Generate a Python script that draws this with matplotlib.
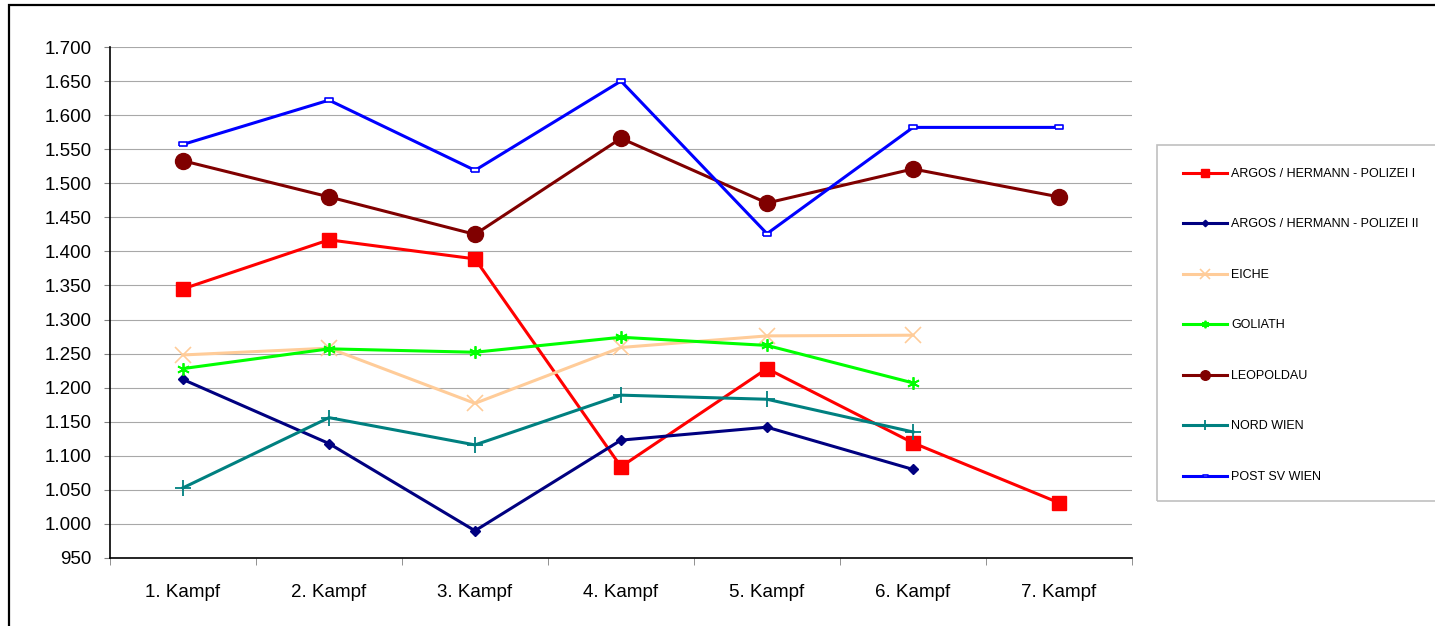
import matplotlib
matplotlib.use('Agg')
import matplotlib.pyplot as plt
from matplotlib.patches import Rectangle
from matplotlib.ticker import FuncFormatter

plt.rcParams['font.family'] = ['Liberation Sans', 'DejaVu Sans']

categories = ['1. Kampf', '2. Kampf', '3. Kampf', '4. Kampf', '5. Kampf', '6. Kampf', '7. Kampf']

argos_1 = [1345, 1417, 1389, 1084, 1228, 1119, 1031]
argos_2 = [1212, 1118, 990, 1123, 1142, 1080]
eiche = [1248, 1258, 1177, 1259, 1276, 1277]
goliath = [1228, 1257, 1252, 1274, 1262, 1207]
leopoldau = [1533, 1480, 1425, 1566, 1471, 1521, 1480]
nord_wien = [1053, 1156, 1116, 1189, 1183, 1135]
post_sv = [1557, 1622, 1519, 1650, 1426, 1582, 1582]

rect_marker = [(-1.6, -0.7), (1.6, -0.7), (1.6, 0.7), (-1.6, 0.7), (-1.6, -0.7)]

series = [
    ('ARGOS / HERMANN - POLIZEI I', argos_1, dict(color='#ff0000', marker='s', ms=9.5)),
    ('ARGOS / HERMANN - POLIZEI II', argos_2, dict(color='#000080', marker='D', ms=5.5)),
    ('EICHE', eiche, dict(color='#ffcc99', marker='x', ms=11, mew=1.2)),
    ('GOLIATH', goliath, dict(color='#00ff00', marker=(6, 2, 0), ms=9, mew=1.3)),
    ('LEOPOLDAU', leopoldau, dict(color='#800000', marker='o', ms=11.5)),
    ('NORD WIEN', nord_wien, dict(color='#008080', marker='+', ms=12, mew=1.3)),
    ('POST SV WIEN', post_sv, dict(color='#0000ff', marker=rect_marker, ms=6, mfc='white', mew=1.2)),
]

fig = plt.figure(figsize=(14.35, 6.26), dpi=100)
ax = fig.add_axes([110 / 1435, 1 - 558 / 626, 1022 / 1435, 511 / 626])

for name, vals, style in series:
    ax.plot(range(len(vals)), vals, lw=2.2, label=name, **style)

ax.set_xlim(-0.5, 6.5)
ax.set_ylim(950, 1700)
ax.set_yticks(range(950, 1701, 50))
ax.yaxis.set_major_formatter(FuncFormatter(lambda v, p: f'{int(v):,}'.replace(',', '.')))
ax.set_xticks(range(7))
ax.set_xticklabels(categories)
ax.set_xticks([i - 0.5 for i in range(8)], minor=True)
ax.tick_params(axis='x', which='major', length=0, pad=19, labelsize=13.5)
ax.tick_params(axis='x', which='minor', length=5, direction='out', color='#808080')
ax.tick_params(axis='y', length=4, direction='out', color='#808080', labelsize=13.5, pad=9)
ax.grid(axis='y', color='#a8a8a8', lw=0.8)
ax.set_axisbelow(True)
for s in ['top', 'right']:
    ax.spines[s].set_visible(False)
for s in ['left', 'bottom']:
    ax.spines[s].set_color('black')
    ax.spines[s].set_linewidth(1.2)

leg = fig.legend(loc='upper left', bbox_to_anchor=(1183 / 1435, 1 - 168 / 626),
                 fontsize=9, frameon=False, labelspacing=3.08,
                 handlelength=3.5, borderpad=0, handletextpad=0.35,
                 borderaxespad=0, markerscale=0.6)

# legend box, cut off at the right edge like the original
fig.patches.append(Rectangle((1157 / 1435, 1 - 501 / 626), 0.3, 356 / 626, transform=fig.transFigure,
                             fill=False, edgecolor='#c0c0c0', lw=1.2))

# outer chart border
fig.patches.append(Rectangle((9 / 1435, -0.05), 1.05, 1.05 - 5 / 626, transform=fig.transFigure,
                             fill=False, edgecolor='black', lw=1.6))

fig.savefig('out.png', dpi=100)
